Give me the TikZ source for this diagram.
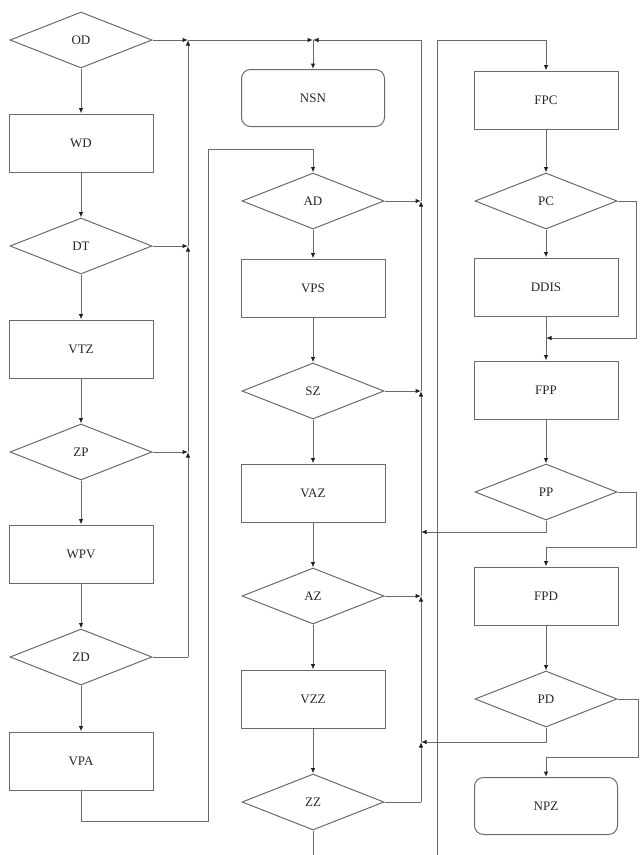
\documentclass[tikz,border=0pt]{standalone}
\usepackage{fontspec}
\setmainfont{Liberation Serif}
\usetikzlibrary{shapes.geometric,arrows.meta}
\definecolor{ln}{HTML}{6A6A6A}
\definecolor{tx}{HTML}{262626}
\definecolor{tip}{HTML}{202020}
\tikzset{
  base/.style={draw=ln,line width=1pt,text=tx,font=\fontsize{13}{15}\selectfont,inner sep=0pt},
  procbox/.style={base,rectangle,minimum width=144pt,minimum height=58pt},
  termbox/.style={base,rectangle,rounded corners=9pt,minimum width=143pt,minimum height=57pt},
  decbox/.style={base,diamond,minimum width=142pt,minimum height=56pt},
  conn/.style={draw=ln,line width=1pt},
  arr/.style={conn,-{Latex[length=5.5pt,width=4.5pt,color=tip]}},
}
\begin{document}
\begin{tikzpicture}[x=1pt,y=-1pt]
\useasboundingbox (0,0) rectangle (640,855);
% column 1
\node[decbox]  (OD)  at (81,40)  {OD};
\node[procbox] (WD)  at (81,143) {WD};
\node[decbox]  (DT)  at (81,246) {DT};
\node[procbox] (VTZ) at (81,349) {VTZ};
\node[decbox]  (ZP)  at (81,452) {ZP};
\node[procbox] (WPV) at (81,554) {WPV};
\node[decbox]  (ZD)  at (81,657) {ZD};
\node[procbox] (VPA) at (81,761) {VPA};
% column 2
\node[termbox] (NSN) at (313,98)  {NSN};
\node[decbox]  (AD)  at (313,201) {AD};
\node[procbox] (VPS) at (313,288) {VPS};
\node[decbox]  (SZ)  at (313,391) {SZ};
\node[procbox] (VAZ) at (313,493) {VAZ};
\node[decbox]  (AZ)  at (313,596) {AZ};
\node[procbox] (VZZ) at (313,699) {VZZ};
\node[decbox]  (ZZ)  at (313,802) {ZZ};
% column 3
\node[procbox] (FPC)  at (546,100) {FPC};
\node[decbox]  (PC)   at (546,201) {PC};
\node[procbox] (DDIS) at (546,287) {DDIS};
\node[procbox] (FPP)  at (546,390) {FPP};
\node[decbox]  (PP)   at (546,492) {PP};
\node[procbox] (FPD)  at (546,596) {FPD};
\node[decbox]  (PD)   at (546,699) {PD};
\node[termbox] (NPZ)  at (546,806) {NPZ};
% junction coordinates
\coordinate (jL1) at (188,40);
\coordinate (jL2) at (188,246);
\coordinate (jL3) at (188,452);
\coordinate (jL4) at (188,657);
\coordinate (jT)  at (313,40);
\coordinate (jR0) at (421,40);
\coordinate (jR1) at (421,201);
\coordinate (jR2) at (421,391);
\coordinate (jR3) at (421,532);
\coordinate (jR4) at (421,596);
\coordinate (jR5) at (421,742);
\coordinate (jR6) at (421,802);
\coordinate (jPC) at (546,338);
\coordinate (bZZ) at (313,855);
\coordinate (bB)  at (437,855);
% column 1 flow
\foreach \a/\b in {OD/WD,WD/DT,DT/VTZ,VTZ/ZP,ZP/WPV,WPV/ZD,ZD/VPA}
  \draw[arr] (\a.south) -- (\b.north);
\draw[arr] (OD.east) -- (jL1);
\draw[arr] (DT.east) -- (jL2);
\draw[arr] (ZP.east) -- (jL3);
\draw[conn] (ZD.east) -- (jL4);
\draw[arr] (jL4) -- (jL3);
\draw[arr] (jL3) -- (jL2);
\draw[arr] (jL2) -- (jL1);
\draw[arr] (jL1) -- (jT);
\draw[arr] (jR0) -- (jT);
\draw[arr] (jT) -- (NSN.north);
% loop to AD
\draw[arr] (VPA.south) -- (81,821) -- (208,821) -- (208,149) -- (313,149) -- (AD.north);
% column 2 flow
\foreach \a/\b in {AD/VPS,VPS/SZ,SZ/VAZ,VAZ/AZ,AZ/VZZ,VZZ/ZZ}
  \draw[arr] (\a.south) -- (\b.north);
\draw[conn] (ZZ.south) -- (bZZ);
\draw[arr] (AD.east) -- (jR1);
\draw[arr] (SZ.east) -- (jR2);
\draw[arr] (AZ.east) -- (jR4);
\draw[conn] (ZZ.east) -- (jR6);
\draw[arr] (jR6) -- (jR5);
\draw[arr] (jR5) -- (jR4);
\draw[arr] (jR4) -- (jR2);
\draw[arr] (jR2) -- (jR1);
\draw[conn] (jR1) -- (jR0);
\draw[arr] (PP.south) -- (546,532) -- (jR3);
\draw[arr] (PD.south) -- (546,742) -- (jR5);
% column 3 flow
\draw[arr] (bB) -- (437,40) -- (546,40) -- (FPC.north);
\foreach \a/\b in {FPC/PC,PC/DDIS,DDIS/FPP,FPP/PP,FPD/PD}
  \draw[arr] (\a.south) -- (\b.north);
\draw[arr] (PC.east) -- (636,201) -- (636,338) -- (jPC);
\draw[arr] (PP.east) -- (636,492) -- (636,547) -- (546,547) -- (FPD.north);
\draw[arr] (PD.east) -- (638,699) -- (638,757) -- (546,757) -- (NPZ.north);
\end{tikzpicture}
\end{document}
